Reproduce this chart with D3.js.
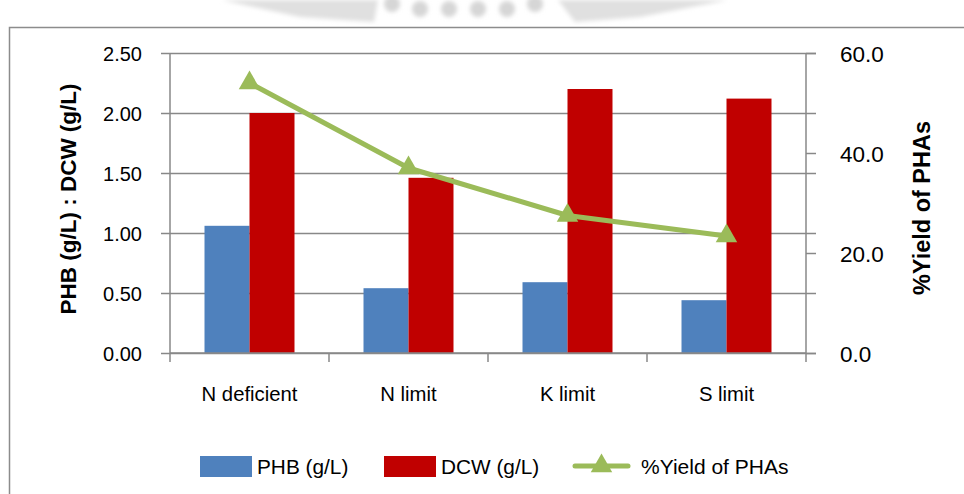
<!DOCTYPE html>
<html>
<head>
<meta charset="utf-8">
<script src="https://cdn.jsdelivr.net/npm/d3@7"></script>
<style>
  html, body { margin: 0; padding: 0; background: #fff; }
  svg { display: block; }
  text { font-family: "Liberation Sans", Arial, sans-serif; fill: #000; }
</style>
</head>
<body>
<svg id="chart" width="964" height="494"></svg>
<script>
// Data
const categories = ["N deficient", "N limit", "K limit", "S limit"];
const phb = [1.06, 0.54, 0.59, 0.44];           // PHB (g/L)
const dcw = [2.00, 1.46, 2.20, 2.12];           // DCW (g/L)
const yieldPct = [54.0, 37.0, 27.5, 23.4];      // %Yield of PHAs
const leftTicks = [0, 0.5, 1.0, 1.5, 2.0, 2.5];
const rightTicks = [0, 20, 40, 60];
const seriesNames = ["PHB (g/L)", "DCW (g/L)", "%Yield of PHAs"];

const colors = { phb: "#4F81BD", dcw: "#C00000", yield: "#9BBB59" };
const gridColor = "#888888";

const svg = d3.select("#chart");
const plot = { left: 170, right: 806, top: 53, bottom: 353 };

// faint header decoration above the frame
const defs = svg.append("defs");
defs.append("filter").attr("id", "soft")
  .append("feGaussianBlur").attr("stdDeviation", 2.2);
const deco = svg.append("g").attr("filter", "url(#soft)").attr("fill", "#e0e0e0");
deco.append("path").attr("d", "M222,0 L378,0 L374,22 L300,17 Z");
deco.append("path").attr("d", "M558,0 L728,0 L640,17 L575,22 Z");
deco.selectAll("circle").data([392, 420, 449, 478, 507, 535]).join("circle")
  .attr("cx", d => d).attr("cy", (d, i) => (i === 0 || i === 5) ? 4 : 9).attr("r", 8)
  .attr("fill", "#d6d6d6");

// outer frame
svg.append("rect").attr("x", 9.5).attr("y", 27.5).attr("width", 1000).attr("height", 1000)
  .attr("fill", "none").attr("stroke", "#8c8c8c").attr("stroke-width", 1.5);

// Scales
const x0 = d3.scaleBand().domain(categories)
  .range([plot.left, plot.right]).paddingInner(0.434).paddingOuter(0.217);
const x1 = d3.scaleBand().domain(["phb", "dcw"]).range([0, x0.bandwidth()]);
const yL = d3.scaleLinear().domain([0, 2.5]).range([plot.bottom, plot.top]);
const yR = d3.scaleLinear().domain([0, 60]).range([plot.bottom, plot.top]);
const step = x0.step();

// Gridlines + left axis
const gL = svg.append("g").attr("transform", `translate(${plot.left},0)`)
  .call(d3.axisLeft(yL).tickValues(leftTicks).tickFormat(d3.format(".2f"))
    .tickSize(-(plot.right - plot.left)).tickPadding(0));
gL.select(".domain").remove();
gL.selectAll(".tick line").attr("stroke", gridColor).attr("stroke-width", 1.5)
  .attr("x1", -9).attr("x2", plot.right - plot.left + 10);
gL.selectAll(".tick text").attr("x", -28).attr("font-size", 20).attr("dy", "0.36em")
  .attr("fill", "#000");

// left axis line
svg.append("line").attr("x1", plot.left).attr("x2", plot.left)
  .attr("y1", plot.top).attr("y2", plot.bottom + 9)
  .attr("stroke", gridColor).attr("stroke-width", 1.5);

// right axis
const gR = svg.append("g").attr("transform", `translate(${plot.right},0)`)
  .call(d3.axisRight(yR).tickValues(rightTicks).tickFormat(d3.format(".1f"))
    .tickSize(10).tickPadding(24));
gR.select(".domain").remove();
gR.selectAll(".tick line").attr("stroke", gridColor).attr("stroke-width", 1.5);
gR.selectAll(".tick text").attr("font-size", 22.5).attr("dy", "0.36em").attr("fill", "#000");
svg.append("line").attr("x1", plot.right).attr("x2", plot.right)
  .attr("y1", plot.top).attr("y2", plot.bottom + 9)
  .attr("stroke", gridColor).attr("stroke-width", 1.5);

// Bars
const barG = svg.append("g");
categories.forEach((c, i) => {
  const vals = [{ k: "phb", v: phb[i] }, { k: "dcw", v: dcw[i] }];
  barG.selectAll(null).data(vals).join("rect")
    .attr("x", d => x0(c) + x1(d.k))
    .attr("y", d => yL(d.v))
    .attr("width", x1.bandwidth())
    .attr("height", d => yL(0) - yL(d.v))
    .attr("fill", d => colors[d.k]);
});

// x axis (category separators)
const gX = svg.append("g").attr("transform", `translate(0,${plot.bottom})`);
gX.append("line").attr("x1", plot.left).attr("x2", plot.right)
  .attr("stroke", gridColor).attr("stroke-width", 1.5);
gX.selectAll(".sep").data(categories.slice(1)).join("line")
  .attr("x1", d => x0(d) - step * 0.217).attr("x2", d => x0(d) - step * 0.217)
  .attr("y1", 0).attr("y2", 9)
  .attr("stroke", gridColor).attr("stroke-width", 1.5);
gX.selectAll(".cat").data(categories).join("text")
  .attr("x", d => x0(d) + x0.bandwidth() / 2)
  .attr("y", 48).attr("text-anchor", "middle").attr("font-size", 20.3)
  .text(d => d);

// Yield line with triangle markers
const cx = i => x0(categories[i]) + x0.bandwidth() / 2;
const line = d3.line().x((d, i) => cx(i)).y(d => yR(d));
svg.append("path").datum(yieldPct).attr("d", line)
  .attr("fill", "none").attr("stroke", colors.yield).attr("stroke-width", 5)
  .attr("stroke-linejoin", "round");
const tri = d3.symbol().type(d3.symbolTriangle).size(200);
svg.selectAll(".mk").data(yieldPct).join("path")
  .attr("transform", (d, i) => `translate(${cx(i)},${yR(d)})`)
  .attr("d", tri).attr("fill", colors.yield);

// Axis titles
svg.append("text")
  .attr("transform", "translate(76,199) rotate(-90)")
  .attr("text-anchor", "middle").attr("font-size", 22.5).attr("font-weight", "bold")
  .text("PHB (g/L) : DCW (g/L)");
svg.append("text")
  .attr("transform", "translate(930,208) rotate(-90)")
  .attr("text-anchor", "middle").attr("font-size", 23.5).attr("font-weight", "bold")
  .text("%Yield of PHAs");

// Legend
const lg = svg.append("g");
lg.append("rect").attr("x", 200).attr("y", 456).attr("width", 52).attr("height", 21).attr("fill", colors.phb);
lg.append("text").attr("x", 257).attr("y", 474).attr("font-size", 20.8).text(seriesNames[0]);
lg.append("rect").attr("x", 384).attr("y", 456).attr("width", 52).attr("height", 21).attr("fill", colors.dcw);
lg.append("text").attr("x", 441).attr("y", 474).attr("font-size", 20.8).text(seriesNames[1]);
lg.append("line").attr("x1", 575).attr("x2", 628).attr("y1", 466).attr("y2", 466)
  .attr("stroke", colors.yield).attr("stroke-width", 5).attr("stroke-linecap", "round");
lg.append("path").attr("transform", "translate(601.5,466)").attr("d", tri).attr("fill", colors.yield);
lg.append("text").attr("x", 641).attr("y", 474).attr("font-size", 21).text(seriesNames[2]);
</script>
</body>
</html>
